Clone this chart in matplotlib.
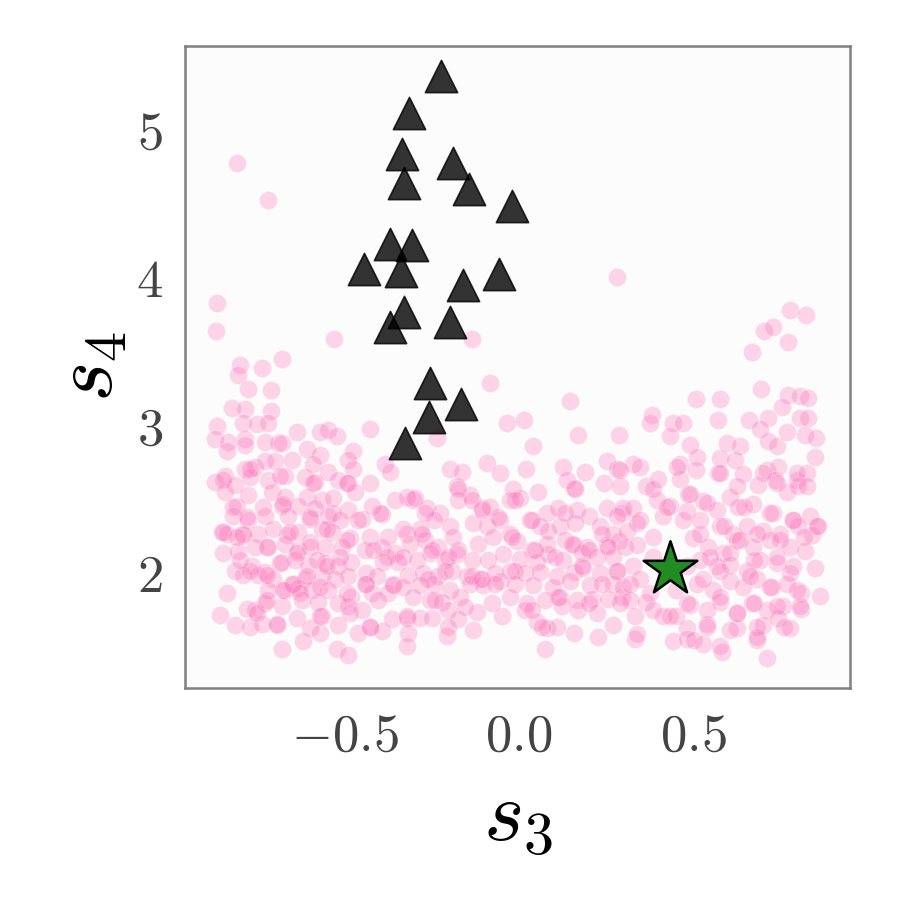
import numpy as np
import matplotlib
matplotlib.use("Agg")
import matplotlib.pyplot as plt
from matplotlib.transforms import ScaledTranslation

plt.rcParams["mathtext.fontset"] = "cm"
plt.rcParams["font.family"] = ["DejaVu Serif"]

# samples from the prior (pink cloud), (s3, s4)
prior_pts = [
    # left part of the band
    (-0.823, 3.15), (-0.785, 3.14), (-0.711, 3.13), (-0.866, 3.03), (-0.790, 3.05), (-0.752, 3.04),
    (-0.718, 3.05), (-0.871, 2.94), (-0.833, 2.92), (-0.785, 2.94), (-0.728, 2.92), (-0.690, 2.91),
    (-0.680, 2.91), (-0.637, 2.99), (-0.570, 2.99), (-0.546, 3.00), (-0.522, 2.96), (-0.427, 3.01),
    (-0.838, 2.86), (-0.785, 2.90), (-0.608, 2.87), (-0.570, 2.83), (-0.475, 2.86), (-0.785, 2.74),
    (-0.756, 2.75), (-0.728, 2.79), (-0.699, 2.79), (-0.651, 2.80), (-0.589, 2.77), (-0.546, 2.72),
    (-0.489, 2.80), (-0.475, 2.74), (-0.384, 2.77), (-0.370, 2.72), (-0.871, 2.65), (-0.842, 2.69),
    (-0.814, 2.63), (-0.771, 2.68), (-0.718, 2.66), (-0.671, 2.69), (-0.613, 2.68), (-0.585, 2.65),
    (-0.518, 2.66), (-0.489, 2.64), (-0.470, 2.58), (-0.427, 2.64), (-0.842, 2.58), (-0.776, 2.56),
    (-0.709, 2.58), (-0.671, 2.55), (-0.608, 2.55), (-0.565, 2.53), (-0.532, 2.54), (-0.809, 2.49),
    (-0.733, 2.48), (-0.680, 2.49), (-0.632, 2.49), (-0.585, 2.47), (-0.489, 2.46), (-0.451, 2.40),
    (-0.422, 2.49), (-0.394, 2.43), (-0.355, 2.53), (-0.852, 2.31), (-0.819, 2.42), (-0.776, 2.39),
    (-0.728, 2.42), (-0.661, 2.42), (-0.599, 2.40), (-0.546, 2.42), (-0.513, 2.39), (-0.460, 2.39),
    (-0.427, 2.28), (-0.374, 2.28), (-0.838, 2.30), (-0.790, 2.29), (-0.747, 2.30), (-0.704, 2.33),
    (-0.666, 2.29), (-0.632, 2.31), (-0.565, 2.33), (-0.537, 2.31), (-0.484, 2.27), (-0.847, 2.17),
    (-0.804, 2.18), (-0.756, 2.21), (-0.718, 2.21), (-0.671, 2.23), (-0.632, 2.19), (-0.599, 2.21),
    (-0.556, 2.21), (-0.508, 2.21), (-0.441, 2.19), (-0.394, 2.21), (-0.355, 2.17), (-0.814, 2.05),
    (-0.766, 2.08), (-0.728, 2.04), (-0.680, 2.11), (-0.642, 2.12), (-0.604, 2.09), (-0.556, 2.10),
    (-0.518, 2.08), (-0.480, 2.11), (-0.437, 2.03), (-0.389, 2.11), (-0.346, 2.11), (-0.790, 2.02),
    (-0.747, 2.02), (-0.704, 1.99), (-0.651, 1.96), (-0.613, 1.99), (-0.565, 2.01), (-0.527, 1.99),
    (-0.489, 2.01), (-0.441, 1.96), (-0.408, 2.01), (-0.360, 1.96), (-0.838, 1.90), (-0.718, 1.92),
    (-0.671, 1.92), (-0.632, 1.93), (-0.594, 1.92), (-0.546, 1.92), (-0.480, 1.87), (-0.422, 1.90),
    (-0.374, 1.90), (-0.780, 1.79), (-0.756, 1.78), (-0.728, 1.83), (-0.680, 1.81), (-0.623, 1.85),
    (-0.575, 1.84), (-0.518, 1.83), (-0.489, 1.81), (-0.451, 1.78), (-0.403, 1.85), (-0.857, 1.75),
    (-0.814, 1.68), (-0.771, 1.67), (-0.737, 1.69), (-0.694, 1.68), (-0.637, 1.73), (-0.599, 1.66),
    (-0.565, 1.74), (-0.518, 1.68), (-0.460, 1.63), (-0.427, 1.67), (-0.394, 1.64), (-0.365, 1.72),
    (-0.680, 1.52), (-0.618, 1.57), (-0.570, 1.63), (-0.522, 1.52), (-0.489, 1.48),
    # extra points in the dense left clump
    (-0.847, 2.66), (-0.771, 2.74), (-0.685, 2.69), (-0.589, 2.64), (-0.494, 2.64), (-0.819, 2.48),
    (-0.780, 2.41), (-0.675, 2.50), (-0.599, 2.41), (-0.532, 2.44), (-0.847, 2.31), (-0.790, 2.30),
    (-0.723, 2.21), (-0.656, 2.31), (-0.599, 2.24), (-0.551, 2.33), (-0.494, 2.26), (-0.685, 2.10),
    (-0.637, 2.17), (-0.580, 2.12), (-0.551, 2.08), (-0.513, 2.14), (-0.723, 2.02), (-0.647, 1.96),
    (-0.608, 2.01), (-0.675, 1.92), (-0.627, 1.90), (-0.570, 1.94), (-0.437, 1.96), (-0.360, 1.95),
    (-0.771, 2.05), (-0.799, 2.12), (-0.322, 2.30), (-0.303, 2.53), (-0.398, 2.44), (-0.417, 2.19),
    (-0.379, 2.14), (-0.752, 1.76), (-0.694, 1.69), (-0.570, 1.74), (-0.484, 1.76), (-0.427, 1.67),
    (-0.322, 1.74), (-0.494, 1.90), (-0.723, 1.85), (-0.809, 2.28),
    # middle part
    (0.146, 3.20), (-0.035, 3.05), (0.014, 3.07), (-0.234, 2.95), (0.041, 2.89), (0.170, 2.97),
    (0.285, 2.97), (-0.198, 2.74), (-0.164, 2.72), (-0.091, 2.78), (-0.054, 2.71), (0.020, 2.74),
    (0.127, 2.75), (0.189, 2.72), (0.251, 2.79), (0.280, 2.74), (-0.179, 2.62), (-0.140, 2.56),
    (-0.016, 2.60), (0.055, 2.58), (0.137, 2.66), (0.156, 2.61), (0.242, 2.64), (0.289, 2.62),
    (-0.322, 2.55), (-0.298, 2.54), (-0.265, 2.47), (-0.226, 2.44), (-0.174, 2.53), (-0.107, 2.47),
    (-0.083, 2.48), (-0.026, 2.53), (0.003, 2.54), (0.079, 2.44), (0.113, 2.47), (0.165, 2.46),
    (0.199, 2.42), (0.251, 2.47), (0.294, 2.44), (-0.331, 2.33), (-0.284, 2.33), (-0.245, 2.39),
    (-0.198, 2.35), (-0.131, 2.37), (-0.093, 2.35), (-0.054, 2.39), (0.031, 2.39), (0.060, 2.35),
    (0.117, 2.35), (0.160, 2.37), (0.232, 2.35), (0.270, 2.30), (-0.312, 2.23), (-0.269, 2.26),
    (-0.231, 2.21), (-0.188, 2.28), (-0.117, 2.23), (-0.074, 2.28), (-0.026, 2.30), (-0.007, 2.25),
    (0.036, 2.19), (0.079, 2.23), (0.132, 2.26), (0.156, 2.22), (0.194, 2.21), (0.251, 2.22),
    (0.285, 2.25), (-0.331, 2.14), (-0.293, 2.12), (-0.255, 2.17), (-0.212, 2.12), (-0.179, 2.16),
    (-0.136, 2.12), (-0.088, 2.12), (-0.045, 2.16), (0.003, 2.13), (0.051, 2.11), (0.084, 2.16),
    (0.127, 2.12), (0.180, 2.17), (0.222, 2.14), (0.270, 2.14), (-0.317, 2.02), (-0.274, 2.03),
    (-0.231, 2.01), (-0.193, 2.05), (-0.150, 2.01), (-0.112, 1.99), (-0.069, 2.03), (-0.026, 2.05),
    (0.017, 2.03), (0.060, 2.04), (0.108, 2.01), (0.156, 2.04), (0.184, 2.07), (0.232, 2.03),
    (0.280, 2.05), (-0.331, 1.94), (-0.284, 1.95), (-0.245, 1.96), (-0.198, 1.92), (-0.140, 1.96),
    (-0.102, 1.95), (-0.054, 1.98), (-0.012, 1.96), (0.041, 1.95), (0.098, 1.94), (0.146, 1.98),
    (0.203, 1.95), (0.270, 1.96), (-0.303, 1.87), (-0.255, 1.85), (-0.222, 1.84), (-0.169, 1.87),
    (-0.121, 1.77), (-0.078, 1.83), (-0.026, 1.87), (0.022, 1.83), (0.074, 1.85), (0.117, 1.87),
    (0.165, 1.85), (0.208, 1.86), (0.256, 1.86), (0.294, 1.87), (-0.322, 1.73), (-0.317, 1.63),
    (-0.322, 1.54), (-0.284, 1.73), (-0.250, 1.73), (-0.203, 1.78), (-0.174, 1.72), (-0.131, 1.65),
    (-0.207, 1.61), (-0.050, 1.74), (0.017, 1.78), (0.051, 1.70), (0.079, 1.66), (0.122, 1.81),
    (0.108, 1.67), (0.156, 1.63), (0.170, 1.78), (0.222, 1.76), (0.227, 1.60), (0.270, 1.68),
    (0.074, 1.52),
    # extra points in the middle
    (-0.269, 2.44), (-0.279, 2.30), (-0.250, 2.19), (-0.203, 2.14), (-0.174, 2.19), (-0.136, 2.01),
    (-0.107, 1.99), (-0.212, 2.05), (-0.260, 1.99), (-0.241, 1.85), (-0.059, 2.41), (-0.012, 2.53),
    (-0.107, 2.46), (-0.021, 2.28), (0.036, 2.39), (0.084, 2.32), (0.046, 2.19), (-0.012, 2.05),
    (0.103, 2.14), (0.151, 2.23), (0.180, 2.08), (0.199, 2.19), (0.237, 2.30), (0.256, 2.21),
    (0.132, 2.44), (0.160, 2.60), (0.113, 1.87), (0.036, 1.78), (0.065, 1.67), (-0.155, 1.80),
    (-0.069, 1.96), (0.199, 1.83), (0.237, 1.96), (-0.203, 1.67), (-0.174, 2.60), (-0.136, 2.53),
    # right part
    (0.776, 3.81), (0.821, 3.78), (0.702, 3.67), (0.728, 3.70), (0.771, 3.60), (0.668, 3.53),
    (0.692, 3.28), (0.507, 3.21), (0.577, 3.21), (0.771, 3.24), (0.805, 3.23), (0.829, 3.22),
    (0.380, 3.10), (0.375, 3.05), (0.442, 3.05), (0.470, 3.05), (0.571, 3.07), (0.660, 3.07),
    (0.714, 3.08), (0.754, 3.16), (0.805, 3.08), (0.829, 3.08), (0.432, 2.96), (0.490, 2.90),
    (0.595, 2.91), (0.633, 2.89), (0.690, 3.01), (0.714, 2.93), (0.738, 2.89), (0.767, 2.99),
    (0.819, 2.97), (0.852, 2.95), (0.327, 2.77), (0.461, 2.77), (0.509, 2.82), (0.507, 2.73),
    (0.576, 2.81), (0.618, 2.80), (0.709, 2.73), (0.743, 2.75), (0.848, 2.82), (0.795, 2.66),
    (0.824, 2.71), (0.365, 2.62), (0.399, 2.67), (0.461, 2.67), (0.485, 2.57), (0.571, 2.71),
    (0.604, 2.55), (0.642, 2.70), (0.685, 2.63), (0.733, 2.66), (0.767, 2.58), (0.800, 2.62),
    (0.299, 2.47), (0.327, 2.47), (0.394, 2.53), (0.432, 2.49), (0.480, 2.45), (0.528, 2.52),
    (0.566, 2.46), (0.628, 2.48), (0.671, 2.50), (0.728, 2.44), (0.786, 2.39), (0.833, 2.42),
    (0.857, 2.35), (0.308, 2.32), (0.346, 2.39), (0.413, 2.42), (0.470, 2.39), (0.518, 2.39),
    (0.576, 2.35), (0.614, 2.30), (0.652, 2.35), (0.700, 2.32), (0.747, 2.30), (0.800, 2.35),
    (0.838, 2.29), (0.303, 2.21), (0.337, 2.22), (0.384, 2.28), (0.499, 2.27), (0.542, 2.21),
    (0.585, 2.17), (0.623, 2.26), (0.671, 2.21), (0.719, 2.26), (0.776, 2.21), (0.819, 2.18),
    (0.327, 2.08), (0.384, 2.14), (0.480, 2.08), (0.518, 2.12), (0.566, 2.08), (0.604, 2.09),
    (0.652, 2.05), (0.690, 2.12), (0.738, 2.10), (0.786, 2.08), (0.848, 2.07), (0.299, 1.94),
    (0.346, 1.99), (0.375, 1.90), (0.451, 1.92), (0.509, 1.96), (0.556, 1.92), (0.604, 1.98),
    (0.642, 1.94), (0.681, 1.99), (0.724, 1.94), (0.767, 1.96), (0.809, 1.90), (0.862, 1.88),
    (0.318, 1.85), (0.365, 1.84), (0.413, 1.74), (0.451, 1.74), (0.490, 1.82), (0.537, 1.78),
    (0.576, 1.84), (0.623, 1.76), (0.666, 1.83), (0.709, 1.78), (0.757, 1.81), (0.809, 1.79),
    (0.332, 1.74), (0.480, 1.66), (0.537, 1.69), (0.623, 1.66), (0.700, 1.68), (0.743, 1.73),
    (0.776, 1.66), (0.332, 1.59), (0.442, 1.57), (0.480, 1.59), (0.528, 1.55), (0.580, 1.50),
    (0.681, 1.58), (0.709, 1.46),
    # extra points in the dense right clump
    (0.290, 2.73), (0.347, 2.75), (0.452, 2.75), (0.576, 2.71), (0.700, 2.71), (0.796, 2.71),
    (0.385, 2.60), (0.490, 2.57), (0.624, 2.62), (0.739, 2.64), (0.824, 2.62), (0.280, 2.42),
    (0.337, 2.37), (0.423, 2.48), (0.538, 2.51), (0.643, 2.48), (0.719, 2.44), (0.786, 2.39),
    (0.853, 2.35), (0.519, 2.30), (0.586, 2.35), (0.633, 2.26), (0.681, 2.30), (0.748, 2.26),
    (0.815, 2.28), (0.548, 2.14), (0.605, 2.17), (0.672, 2.12), (0.739, 2.14), (0.777, 2.03),
    (0.280, 2.05), (0.318, 1.96), (0.528, 1.99), (0.576, 2.05), (0.662, 2.01), (0.719, 1.94),
    (0.796, 1.92), (0.576, 1.87), (0.624, 1.76), (0.672, 1.83), (0.739, 1.81), (0.805, 1.81),
    (0.481, 1.83), (0.385, 1.78), (0.290, 1.83), (0.433, 1.74), (0.538, 1.67), (0.605, 1.65),
    (0.681, 1.67), (0.758, 1.67), (0.500, 1.58), (0.576, 1.54), (0.681, 1.60), (0.337, 1.62),
    # stragglers above the band
    (-0.807, 4.81), (-0.718, 4.56), (-0.864, 3.86), (-0.869, 3.67), (-0.531, 3.62), (-0.134, 3.62),
    (-0.799, 3.44), (-0.804, 3.375), (-0.737, 3.42), (-0.678, 3.48), (-0.776, 3.28), (-0.711, 3.27),
    (-0.083, 3.32), (0.281, 4.04),
]

# accepted samples (black triangles)
post_s3 = [-0.225, -0.315, -0.334, -0.188, -0.330, -0.144, -0.020, -0.369, -0.306, -0.444,
           -0.339, -0.160, -0.057, -0.330, -0.369, -0.197, -0.255, -0.166, -0.257, -0.327]
post_s4 = [5.40, 5.15, 4.87, 4.81, 4.67, 4.63, 4.52, 4.26, 4.25, 4.09,
           4.08, 3.98, 4.06, 3.80, 3.70, 3.73, 3.32, 3.18, 3.09, 2.91]

# true parameter (star)
true_s3 = [0.433]
true_s4 = [2.06]

xticks = [-0.5, 0.0, 0.5]
yticks = [2, 3, 4, 5]

prior = np.array(prior_pts)

fig = plt.figure(figsize=(8.97, 8.97), dpi=100)
ax = fig.add_axes([0.2062, 0.233, 0.7414, 0.7157])
ax.set_facecolor("#fcfcfc")

ax.scatter(prior[:, 0], prior[:, 1], s=170, c="#ff69b4", alpha=0.28,
           edgecolors="white", linewidths=0.8, zorder=2)
ax.scatter(post_s3, post_s4, s=540, marker="^", c="black", alpha=0.8,
           edgecolors="black", linewidths=1.2, zorder=3)
ax.scatter(true_s3, true_s4, s=1650, marker="*", c="#228b22",
           edgecolors="black", linewidths=1.8, zorder=4)

ax.set_xlim(-0.957, 0.948)
ax.set_ylim(1.255, 5.60)

ax.set_xticks(xticks)
ax.set_xticklabels([f"${t:.1f}$" for t in xticks])
ax.set_yticks(yticks)
ax.set_yticklabels([f"${t}$" for t in yticks])
ax.tick_params(length=0, pad=16, labelsize=38, labelcolor="#444444")

# nudge the y tick labels up a little
shift = ScaledTranslation(0, 4 / 72, fig.dpi_scale_trans)
for lab in ax.get_yticklabels():
    lab.set_transform(lab.get_transform() + shift)

for sp in ax.spines.values():
    sp.set_color("#808080")
    sp.set_linewidth(1.8)

ax.set_xlabel("$s_3$", fontsize=62, labelpad=10)
ax.set_ylabel("$s_4$", fontsize=62, labelpad=4)

fig.savefig("out.png", dpi=100)
